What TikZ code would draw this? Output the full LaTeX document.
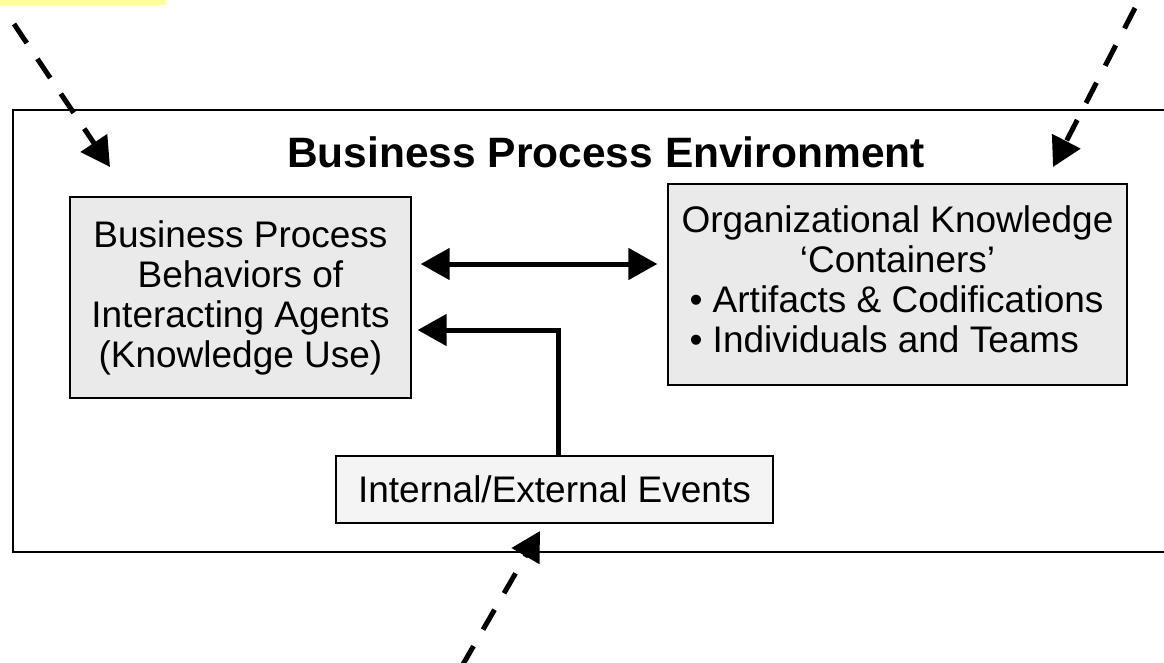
\documentclass[tikz,border=0pt]{standalone}
\usepackage{fontspec}
\setmainfont{Liberation Sans}
\usetikzlibrary{arrows.meta}
\definecolor{boxgray}{HTML}{EAEAEA}
\definecolor{evgray}{HTML}{F4F4F4}
\definecolor{notey}{HTML}{FFFF99}
\tikzset{
  boxfont/.style={font=\fontsize{37}{40}\selectfont},
  pbox/.style={draw=black, line width=1.3pt, fill=boxgray, inner sep=0pt, boxfont},
  tip/.style={Triangle[length=29pt,width=31pt]},
  flow/.style={line width=5pt, -{Triangle[length=29pt,width=31pt]}},
  dflow/.style={flow, dash pattern=on 23pt off 19pt},
}
\begin{document}
\begin{tikzpicture}[x=1pt,y=-1pt]
\clip (0,0) rectangle (1164,663);
\fill[white] (0,0) rectangle (1164,663);
\fill[notey] (0,0) rectangle (165,5);
% environment frame (open on the right)
\draw[line width=1.5pt] (1170,110) -- (13,110) -- (13,552) -- (1170,552);
\node[anchor=base, font=\fontsize{42.5}{45}\selectfont\bfseries] (title) at (606,168) {Business Process Environment};
\node[pbox, align=center, minimum width=341pt, minimum height=201pt] (L) at (240.5,297.5)
  {Business Process\\Behaviors of\\Interacting Agents\\(Knowledge Use)};
\node[pbox, minimum width=459pt, minimum height=201pt] (R) at (897.5,284.5)
  {\begin{tabular}{@{}l@{}}\multicolumn{1}{@{}c@{}}{Organizational Knowledge}\\
   \multicolumn{1}{@{}c@{}}{‘Containers’}\\
   \hspace{8pt}• Artifacts \& Codifications\\
   \hspace{8pt}• Individuals and Teams\end{tabular}};
\node[pbox, fill=evgray, minimum width=437pt, minimum height=67pt] (E) at (554.5,489.5) {Internal/External Events};
% solid connectors
\draw[line width=5pt, {Triangle[length=29pt,width=31pt]}-{Triangle[length=29pt,width=31pt]}]
  ([xshift=9pt,yshift=33.5pt]L.east) -- ([xshift=-10pt,yshift=20.5pt]R.west);
\draw[flow] ([xshift=3.5pt]E.north) |- ([xshift=6pt,yshift=-32.5pt]L.east);
% dashed incoming arrows
\coordinate (a1) at (14,24);
\coordinate (a1t) at (110,167);
\coordinate (a2) at (1135,8);
\coordinate (a2t) at (1053,167);
\coordinate (a3) at (462,666);
\coordinate (a3t) at (540,531);
\draw[dflow] (a1) -- (a1t);
\draw[dflow] (a2) -- (a2t);
\draw[dflow] (a3) -- (a3t);
\end{tikzpicture}
\end{document}
